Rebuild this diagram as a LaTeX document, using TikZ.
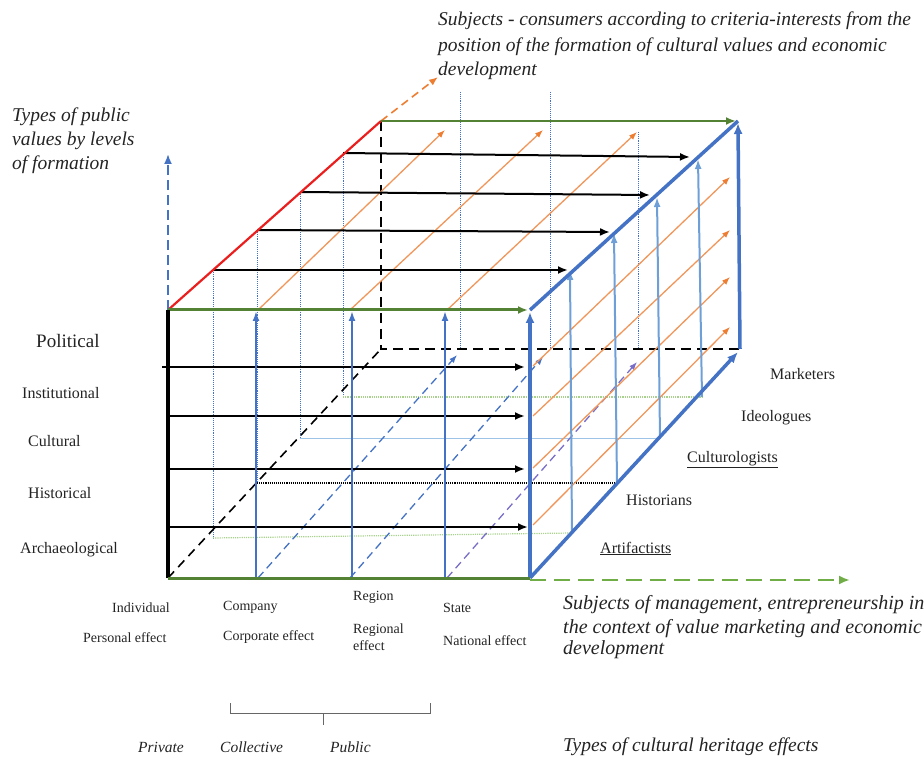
\documentclass[tikz,border=0pt]{standalone}
\usepackage{fontspec}
\setmainfont{Liberation Serif}[ItalicFont={Liberation Serif Italic},BoldFont={Liberation Serif Bold}]
\usetikzlibrary{arrows.meta}
\definecolor{dgreen}{RGB}{84,130,53}
\definecolor{lgreen}{RGB}{112,173,71}
\definecolor{pgreen}{RGB}{169,209,142}
\definecolor{cblue}{RGB}{68,114,196}
\definecolor{rblue}{RGB}{110,160,215}
\definecolor{pblue}{RGB}{157,195,230}
\definecolor{corange}{RGB}{240,150,90}
\definecolor{dorange}{RGB}{237,125,49}
\definecolor{cred}{RGB}{235,30,30}
\definecolor{cpurple}{RGB}{120,110,200}
\definecolor{txt}{RGB}{35,35,35}
\tikzset{
  lbl/.style={anchor=base west,inner sep=0pt,text=txt,font=\fontsize{16}{18}\selectfont},
  sml/.style={anchor=base west,inner sep=0pt,text=txt,font=\fontsize{14}{16}\selectfont},
  ital/.style={anchor=base west,inner sep=0pt,text=txt,font=\fontsize{19.5}{22}\selectfont\itshape},
  itsm/.style={anchor=base west,inner sep=0pt,text=txt,font=\fontsize{15.5}{18}\selectfont\itshape},
  blkarrow/.style={draw=black,line width=2pt,-{Latex[length=10pt,width=8pt]}},
  orarrow/.style={draw=corange,line width=1.3pt,-{Latex[length=8pt,width=6pt]},arrows={-{Latex[length=8pt,width=6pt,color=dorange]}}},
  bluearrow/.style={draw=cblue,line width=2pt,-{Latex[length=10pt,width=7pt]}},
  rbluearrow/.style={draw=rblue,line width=2pt,-{Latex[length=10pt,width=7pt]}},
  thickblue/.style={draw=cblue,line width=3.5pt},
  dotblue/.style={draw=cblue,line width=0.9pt,densely dotted},
  dashblue/.style={draw=cblue,line width=1.3pt,dash pattern=on 8pt off 5pt,-{Latex[length=8pt,width=6pt]}},
}
\begin{document}
\begin{tikzpicture}[x=1pt,y=-1pt]
\useasboundingbox (0,0) rectangle (924,759);
% cube corners
\coordinate (FTL) at (168,310);
\coordinate (FTR) at (530,310);
\coordinate (FBL) at (168,578);
\coordinate (FBR) at (530,578);
\coordinate (BTL) at (381,121);
\coordinate (BTR) at (738,121);
\coordinate (BBL) at (381,349);
\coordinate (BBR) at (740,349);
% slice corners
\coordinate (S1T) at (213,270); \coordinate (S1B) at (213,538); \coordinate (S1R) at (572,533);
\coordinate (S2T) at (257,230); \coordinate (S2B) at (257,483); \coordinate (S2R) at (617,483);
\coordinate (S3T) at (300,192); \coordinate (S3B) at (300,438); \coordinate (S3R) at (660,438);
\coordinate (S4T) at (343,153); \coordinate (S4B) at (343,397); \coordinate (S4R) at (702,397);

% back face dotted columns
\coordinate (C1t) at (460,92);  \coordinate (C1b) at (460,349);
\coordinate (C2t) at (550,92);  \coordinate (C2b) at (550,349);
\coordinate (C3t) at (638,132); \coordinate (C3b) at (638,349);
\draw[dotblue] (C1t) -- (C1b);
\draw[dotblue] (C2t) -- (C2b);
\draw[dotblue] (C3t) -- (C3b);

% slice outlines (left dotted + bottom lines)
\draw[dotblue] (S1T) -- (S1B);
\draw[dotblue] (S2T) -- (S2B);
\draw[dotblue] (S3T) -- (S3B);
\draw[dotblue] (S4T) -- (S4B);
\draw[draw=pgreen,line width=1.2pt,densely dotted] (S1B) -- (S1R);
\draw[draw=black,line width=1.1pt,densely dotted] (S2B) -- (S2R);
\draw[draw=pblue,line width=1pt] (S3B) -- (S3R);
\draw[draw=pgreen,line width=1.2pt,densely dotted] (S4B) -- (S4R);

% hidden edges
\draw[black,line width=1.6pt,dash pattern=on 9pt off 6pt] (FBL) -- (BBL);
\draw[black,line width=1.8pt,dash pattern=on 10pt off 6pt] (BTL) -- (BBL) -- (BBR);

% bottom face dashed diagonals
\coordinate (D1s) at (258,578); \coordinate (D1e) at (457,355);
\coordinate (D2s) at (350,578); \coordinate (D2e) at (543,357);
\coordinate (D3s) at (447,578); \coordinate (D3e) at (637,362);
\draw[dashblue] (D1s) -- (D1e);
\draw[dashblue] (D2s) -- (D2e);
\draw[dashblue,draw=cpurple] (D3s) -- (D3e);

% top face orange arrows
\coordinate (O1s) at (258,310); \coordinate (O1e) at (445,130);
\coordinate (O2s) at (350,310); \coordinate (O2e) at (543,130);
\coordinate (O3s) at (447,310); \coordinate (O3e) at (637,132);
\draw[orarrow] (O1s) -- (O1e);
\draw[orarrow] (O2s) -- (O2e);
\draw[orarrow] (O3s) -- (O3e);

% right face orange arrows
\coordinate (R1s) at (533,525); \coordinate (R1e) at (730,327);
\coordinate (R2s) at (533,468); \coordinate (R2e) at (730,277);
\coordinate (R3s) at (533,416); \coordinate (R3e) at (730,230);
\coordinate (R4s) at (533,366); \coordinate (R4e) at (730,177);
\draw[orarrow] (R1s) -- (R1e);
\draw[orarrow] (R2s) -- (R2e);
\draw[orarrow] (R3s) -- (R3e);
\draw[orarrow] (R4s) -- (R4e);

% top face black arrows
\coordinate (T1e) at (568,270);
\coordinate (T2e) at (610,232);
\coordinate (T3e) at (650,195);
\coordinate (T4e) at (690,157);
\draw[blkarrow] (S1T) -- (T1e);
\draw[blkarrow] (S2T) -- (T2e);
\draw[blkarrow] (S3T) -- (T3e);
\draw[blkarrow] (S4T) -- (T4e);

% front face black arrows
\coordinate (H1s) at (162,367); \coordinate (H1e) at (525,367);
\coordinate (H2s) at (168,416); \coordinate (H2e) at (525,416);
\coordinate (H3s) at (168,469); \coordinate (H3e) at (525,469);
\coordinate (H4s) at (168,527); \coordinate (H4e) at (528,527);
\draw[blkarrow] (H1s) -- (H1e);
\draw[blkarrow] (H2s) -- (H2e);
\draw[blkarrow] (H3s) -- (H3e);
\draw[blkarrow] (H4s) -- (H4e);

% front face blue vertical arrows
\coordinate (V1b) at (256,578); \coordinate (V1t) at (256,311);
\coordinate (V2b) at (352,578); \coordinate (V2t) at (352,311);
\coordinate (V3b) at (445,578); \coordinate (V3t) at (445,311);
\draw[bluearrow] (V1b) -- (V1t);
\draw[bluearrow] (V2b) -- (V2t);
\draw[bluearrow] (V3b) -- (V3t);

% right face blue vertical arrows
\coordinate (W1t) at (570,270);
\coordinate (W2t) at (614,233);
\coordinate (W3t) at (657,197);
\coordinate (W4t) at (698,159);
\draw[rbluearrow] (S1R) -- (W1t);
\draw[rbluearrow] (S2R) -- (W2t);
\draw[rbluearrow] (S3R) -- (W3t);
\draw[rbluearrow] (S4R) -- (W4t);

% red edge + orange dashed extension
\coordinate (Oext) at (438,77);
\draw[cred,line width=2.2pt] (FTL) -- (BTL);
\draw[dorange,line width=1.6pt,dash pattern=on 8pt off 5pt,-{Latex[length=9pt,width=7pt]}] (BTL) -- (Oext);

% vertical blue dashed arrow
\coordinate (Vax) at (168,154);
\draw[cblue,line width=1.8pt,dash pattern=on 10pt off 5pt,-{Latex[length=10pt,width=8pt]}] (FTL) -- (Vax);

% top back edge and front top edge
\coordinate (BTRa) at (736,121);
\coordinate (FTRa) at (528,310);
\draw[dgreen,line width=2.2pt,-{Latex[length=10pt,width=8pt]}] (BTL) -- (BTRa);
\draw[dgreen,line width=3pt,-{Latex[length=10pt,width=8pt]}] (FTL) -- (FTRa);

% blue cube edges
\coordinate (FTRb) at (530,312);
\coordinate (BTRb) at (738,123);
\coordinate (BBRb) at (738,352);
\draw[thickblue] (FTR) -- (BTR);
\draw[thickblue,-{Latex[length=11pt,width=9pt]}] (FBR) -- (FTRb);
\draw[thickblue,-{Latex[length=11pt,width=9pt]}] (BBR) -- (BTRb);
\draw[thickblue,-{Latex[length=11pt,width=9pt]}] (FBR) -- (BBRb);

% front left edge and bottom edge
\draw[black,line width=3.5pt] (FBL) -- (FTL);
\coordinate (Gend) at (850,580);
\coordinate (FBRg) at (530,580);
\draw[dgreen,line width=3pt] (FBL) -- (FBR);
\draw[lgreen,line width=2.5pt,dash pattern=on 16pt off 8pt,-{Latex[length=11pt,width=9pt]}] (FBRg) -- (Gend);

% texts
\node[ital] (tl1) at (12,122) {Types of public};
\node[ital] (tl2) at (12,146) {values by levels};
\node[ital] (tl3) at (12,170) {of formation};
\node[ital] (tr1) at (438,26) {Subjects - consumers according to criteria-interests from the};
\node[ital] (tr2) at (438,52) {position of the formation of cultural values and economic};
\node[ital] (tr3) at (438,76) {development};

\node[lbl,font=\fontsize{19}{21}\selectfont] (pol) at (36,348) {Political};
\node[lbl] (ins) at (22,398) {Institutional};
\node[lbl] (cul) at (28,446) {Cultural};
\node[lbl] (his) at (28,498) {Historical};
\node[lbl] (arc) at (20,553) {Archaeological};

\node[lbl] (mar) at (770,380) {Marketers};
\node[lbl] (ide) at (741,421) {Ideologues};
\node[lbl] (ctl) at (687,462) {\underline{Culturologists}};
\node[lbl] (hst) at (626,505) {Historians};
\node[lbl] (art) at (600,553) {\underline{Artifactists}};

\node[sml] (ind) at (112,612) {Individual};
\node[sml] (com) at (223,610) {Company};
\node[sml] (reg) at (353,600) {Region};
\node[sml] (sta) at (443,612) {State};
\node[sml] (pef) at (83,642) {Personal effect};
\node[sml] (cef) at (223,640) {Corporate effect};
\node[sml] (ref1) at (353,633) {Regional};
\node[sml] (ref2) at (353,650) {effect};
\node[sml] (nef) at (443,645) {National effect};

\node[ital,font=\fontsize{20}{22}\selectfont\itshape] (br1) at (563,609) {Subjects of management, entrepreneurship in};
\node[ital,font=\fontsize{20}{22}\selectfont\itshape] (br2) at (563,633) {the context of value marketing and economic};
\node[ital,font=\fontsize{20}{22}\selectfont\itshape] (br3) at (563,654) {development};
\node[ital] (tch) at (563,751) {Types of cultural heritage effects};

\node[itsm] (pri) at (138,752) {Private};
\node[itsm] (col) at (220,752) {Collective};
\node[itsm] (pub) at (330,752) {Public};

% bracket
\coordinate (K1) at (230,703); \coordinate (K2) at (230,713);
\coordinate (K3) at (430,713); \coordinate (K4) at (430,703);
\coordinate (K5) at (323,713); \coordinate (K6) at (323,725);
\draw[gray!80!black,line width=0.9pt] (K1) -- (K2) -- (K3) -- (K4);
\draw[gray!80!black,line width=0.9pt] (K5) -- (K6);
\end{tikzpicture}
\end{document}
